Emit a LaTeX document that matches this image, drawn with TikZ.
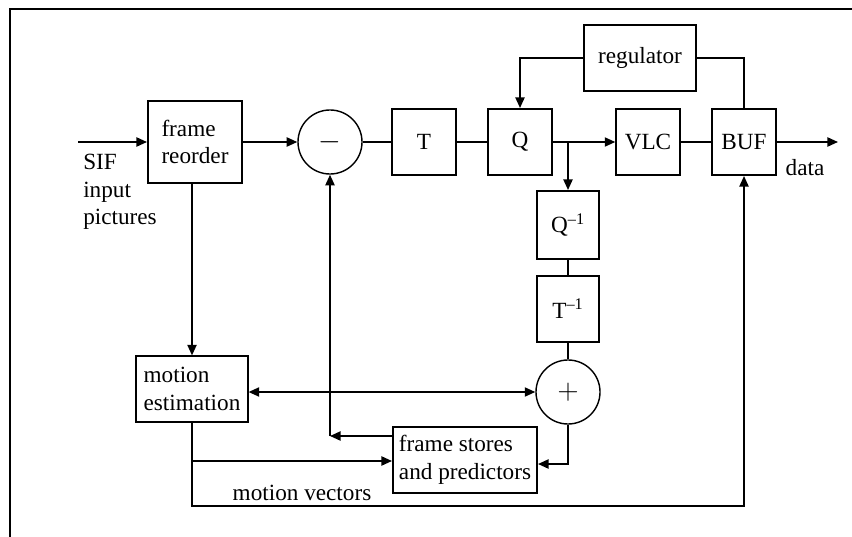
\documentclass[tikz,border=0pt]{standalone}
\usepackage{fontspec}
\setmainfont{Liberation Serif}
\usetikzlibrary{arrows.meta}

\begin{document}
\begin{tikzpicture}[x=0.025cm, y=-0.025cm,
    >={Triangle[length=7.5pt, width=6.5pt]},
    every node/.style={font=\fontsize{16.5}{19.5}\selectfont},
    block/.style={draw, line width=1.4pt, inner sep=2pt, minimum width=1.6cm, minimum height=1.65cm},
    summer/.style={circle, draw, line width=1pt, minimum size=1.6cm, inner sep=0pt, font=\fontsize{22}{24}\selectfont},
    lbl/.style={inner sep=0pt, align=left},
    line width=1.2pt]
    \useasboundingbox (0,0) rectangle (852,537);
    \draw[line width=1.6pt] (10,537) -- (10,9) -- (852,9);

    % Nodes
    \node[block, align=left, minimum width=2.35cm, minimum height=2.05cm] (reorder) at (195,142) {frame\\reorder};
    \node[summer] (minus) at (330,142) {$-$};
    \node[block] (T) at (424,142) {T};
    \node[block] (Q) at (520,142) {Q};
    \node[block, line width=1pt] (VLC) at (648,142) {VLC};
    \node[block] (BUF) at (744,142) {BUF};
    \node[block, minimum width=2.8cm] (reg) at (640,58) {regulator};
    \node[block, minimum width=1.55cm, minimum height=1.7cm] (Qinv) at (568,225) {Q\textsuperscript{--1}};
    \node[block, minimum width=1.55cm, minimum height=1.65cm] (Tinv) at (568,309) {T\textsuperscript{--1}};
    \node[summer] (plus) at (568,392) {$+$};
    \node[block, align=left, minimum width=2.78cm, minimum height=1.63cm] (ME) at (192,389) {motion\\estimation};
    \node[block, align=left, minimum width=3.6cm, minimum height=1.63cm] (FS) at (465,460) {frame stores\\and predictors};

    \node[lbl] (sif) at (120,192) {SIF\\input\\pictures};
    \node[lbl] (data) at (805,168) {data};
    \node[lbl] (mvec) at (302,493) {motion vectors};

    \coordinate (in) at (78,142);
    \coordinate (out) at (838,142);
    \coordinate (br) at (568,142);
    \coordinate (fb) at (330,436);
    \coordinate (mvb) at (192,461);
    \coordinate (mvl) at (192,506);

    % Edges
    \draw[->] (in) -- (reorder);
    \draw[->] (reorder) -- (minus);
    \draw (minus) -- (T);
    \draw (T) -- (Q);
    \draw[->] (Q) -- (VLC);
    \draw (VLC) -- (BUF);
    \draw[->] (BUF) -- (out);
    \draw[->] (reg.west) -| (Q.north);
    \draw (reg.east) -| (BUF.north);
    \draw[->] (br) -- (Qinv);
    \draw (Qinv) -- (Tinv);
    \draw (Tinv) -- (plus);
    \draw[->] (plus.south) |- ([yshift=-0.1cm]FS.east);
    \draw[->] (FS.west |- fb) -- (fb);
    \draw[->] (fb) -- (minus);
    \draw[->] (reorder.south -| ME.north) -- (ME.north);
    \draw[<->] (ME.east |- plus) -- (plus);
    \draw[->] (ME) -- (mvl) -| (BUF);
    \draw[->] (mvb) -- (FS.west |- mvb);
\end{tikzpicture}
\end{document}
